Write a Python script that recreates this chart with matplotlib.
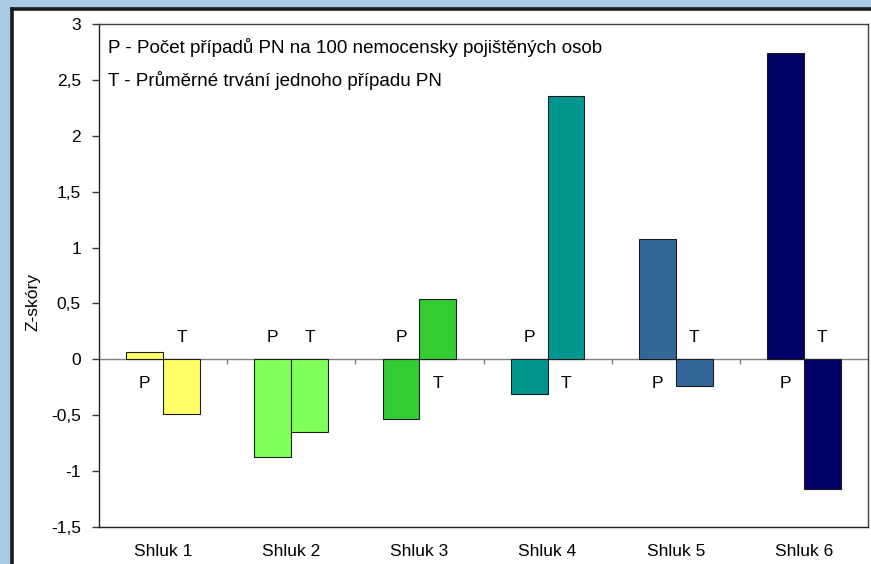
import matplotlib
matplotlib.use("Agg")
import matplotlib.pyplot as plt
import numpy as np
from matplotlib.patches import Rectangle
from matplotlib.lines import Line2D

plt.rcParams['font.family'] = ['Liberation Sans', 'DejaVu Sans']

# data
clusters = ['Shluk 1', 'Shluk 2', 'Shluk 3', 'Shluk 4', 'Shluk 5', 'Shluk 6']
p_vals = [0.07, -0.87, -0.53, -0.31, 1.08, 2.74]
t_vals = [-0.49, -0.65, 0.54, 2.36, -0.24, -1.16]
colors = ['#FFFF66', '#80FF5A', '#33CC33', '#009690', '#336699', '#000066']
yticks = [-1.5, -1, -0.5, 0, 0.5, 1, 1.5, 2, 2.5, 3]
ytick_labels = ['-1,5', '-1', '-0,5', '0', '0,5', '1', '1,5', '2', '2,5', '3']
legend_lines = ['P - Počet případů PN na 100 nemocensky pojištěných osob',
                'T - Průměrné trvání jednoho případu PN']

W, H = 871, 564
fs = 12.5
fig = plt.figure(figsize=(W / 100, H / 100), dpi=100, facecolor='#A9CAE2')

# white panel with dark frame on top and left (drawn under the axes)
fig.patches.append(Rectangle((11 / W, 0), 1, (H - 8) / H, transform=fig.transFigure,
                             facecolor='white', edgecolor='none', zorder=-2))
fig.lines.append(Line2D([11.5 / W, 11.5 / W], [0, (H - 8.5) / H], transform=fig.transFigure,
                        color='#1a1a1a', lw=2.6, zorder=-1))
fig.lines.append(Line2D([11.5 / W, 1], [(H - 8.5) / H, (H - 8.5) / H], transform=fig.transFigure,
                        color='#1a1a1a', lw=2.6, zorder=-1))

ax = fig.add_axes([99 / W, (H - 527) / H, 769 / W, 503 / H])
ax.set_facecolor('white')

x = np.arange(len(clusters))
w = 0.287
ax.bar(x - w / 2, p_vals, w, color=colors, edgecolor='#1e1e1e', linewidth=0.8, zorder=3)
ax.bar(x + w / 2, t_vals, w, color=colors, edgecolor='#1e1e1e', linewidth=0.8, zorder=3)

# P / T markers placed on the opposite side of zero from the bar
for i in range(len(clusters)):
    for xc, v, lab in [(x[i] - w / 2, p_vals[i], 'P'), (x[i] + w / 2, t_vals[i], 'T')]:
        off = -24 if v > 0 else 22
        ax.annotate(lab, (xc, 0), xytext=(0, off), textcoords='offset pixels',
                    ha='center', va='center', fontsize=fs, color='black')

ax.axhline(0, color='#7f7f7f', lw=1, zorder=2)
ax.vlines(np.arange(len(clusters) - 1) + 0.5, -0.045, 0, color='#7f7f7f', lw=1, zorder=2)

ax.set_xlim(-0.5, len(clusters) - 0.5)
ax.set_ylim(-1.5, 3)
ax.set_yticks(yticks)
ax.set_yticklabels(ytick_labels)
ax.set_xticks(x)
ax.set_xticklabels(clusters)
ax.tick_params(axis='x', length=0, pad=12, labelsize=fs)
ax.tick_params(axis='y', length=5, width=1, pad=8, labelsize=fs, color='#333333')

for s in ['left', 'bottom']:
    ax.spines[s].set_color('#222222')
for s in ['top', 'right']:
    ax.spines[s].set_color('#404040')
for s in ax.spines.values():
    s.set_linewidth(1)

ax.set_ylabel('Z-skóry', fontsize=fs)
ax.yaxis.set_label_coords(-0.076, 0.447)

for k, line in enumerate(legend_lines):
    ax.text(0.0117, 0.954 - k * 0.066, line, transform=ax.transAxes,
            ha='left', va='center', fontsize=13.5)

fig.savefig('out.png', dpi=100, facecolor=fig.get_facecolor())
